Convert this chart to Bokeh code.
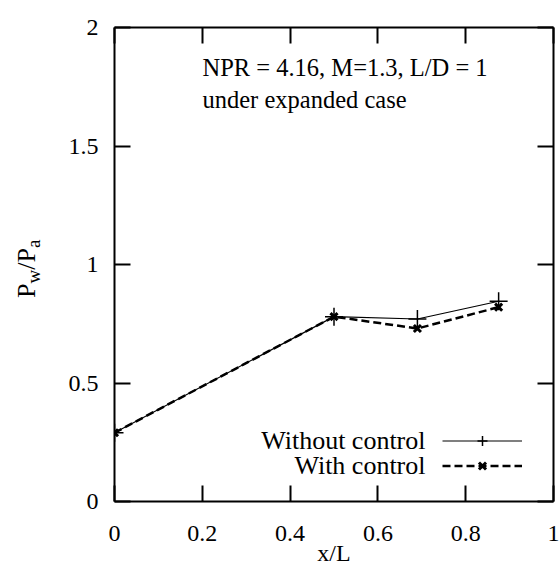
from bokeh.plotting import figure
from bokeh.models import (ColumnDataSource, Range1d, LinearAxis, FixedTicker, Label,
                          Legend, LegendItem, CustomLabelingPolicy, Div)
from bokeh.layouts import row
from bokeh.embed import file_html
from bokeh.resources import INLINE

# ---- data ----
x_pos = [0.0, 0.5, 0.69, 0.875]
without_control = [0.29, 0.78, 0.77, 0.845]
with_control = [0.29, 0.78, 0.73, 0.82]

x_ticks = [0, 0.2, 0.4, 0.6, 0.8, 1.0]
x_tick_labels = ["0", "0.2", "0.4", "0.6", "0.8", "1"]
y_ticks = [0, 0.5, 1.0, 1.5, 2.0]
y_tick_labels = ["0", "0.5", "1", "1.5", "2"]

series_names = ["Without control", "With control"]
note_lines = ["NPR = 4.16, M=1.3, L/D = 1", "under expanded case"]
x_label = "x/L"
y_label_parts = ["P", "w", "/P", "a"]   # P_w / P_a

FONT = "Liberation Serif"
FS = "24px"
DIV_W = 50

src1 = ColumnDataSource(dict(x=x_pos, y=without_control))
src2 = ColumnDataSource(dict(x=x_pos, y=with_control))

p = figure(frame_width=439, frame_height=474, output_backend="svg", toolbar_location=None,
           x_range=Range1d(0, 1), y_range=Range1d(0, 2),
           min_border_left=114 - DIV_W, min_border_top=27, min_border_right=6, min_border_bottom=10)
p.xgrid.visible = False
p.ygrid.visible = False
p.outline_line_color = None
p.background_fill_color = "white"
p.border_fill_color = "white"

bottom_ax = p.below[0]
left_ax = p.left[0]
top_ax = LinearAxis()
right_ax = LinearAxis()
p.add_layout(top_ax, "above")
p.add_layout(right_ax, "right")

hide_all = CustomLabelingPolicy(code="""
const n = indices.size;
for (let i = 0; i < n; i++) { indices.unset(i); }
return indices;
""")

for ax, ticks, labels in [(bottom_ax, x_ticks, x_tick_labels), (left_ax, y_ticks, y_tick_labels),
                          (top_ax, x_ticks, x_tick_labels), (right_ax, y_ticks, y_tick_labels)]:
    ax.ticker = FixedTicker(ticks=ticks)
    ax.major_label_overrides = {t: l for t, l in zip(ticks, labels)}
    ax.minor_tick_line_color = None
    ax.major_tick_in = 16
    ax.major_tick_out = 0
    ax.major_tick_line_width = 2
    ax.major_tick_line_color = "black"
    ax.axis_line_width = 2
    ax.axis_line_color = "black"
    ax.major_label_text_font = FONT
    ax.major_label_text_font_size = FS
    ax.major_label_text_color = "black"
    ax.major_label_standoff = 16

for ax in (top_ax, right_ax):
    ax.major_label_policy = hide_all
    ax.major_label_standoff = 0

bottom_ax.major_label_standoff = 24
bottom_ax.axis_label = x_label
bottom_ax.axis_label_text_font = FONT
bottom_ax.axis_label_text_font_size = FS
bottom_ax.axis_label_text_font_style = "normal"
bottom_ax.axis_label_text_color = "black"
bottom_ax.axis_label_standoff = -4

# series
r1 = p.line("x", "y", source=src1, line_color="black", line_width=1.2)
m1 = p.scatter("x", "y", source=src1, marker="cross", size=18, line_color="black", line_width=1.5)
r2 = p.line("x", "y", source=src2, line_color="black", line_width=2.5, line_dash="8 4")
m2 = p.scatter("x", "y", source=src2, marker="x", size=10, line_color="black", line_width=3)

# legend: glyph samples from Bokeh's legend, texts as labels on their left
legend = Legend(items=[LegendItem(label="", renderers=[r1, m1]),
                       LegendItem(label="", renderers=[r2, m2])],
                location=(328, 23), orientation="vertical",
                glyph_width=80, glyph_height=25, label_height=25, label_width=0, spacing=0,
                padding=0, margin=0, label_standoff=0,
                label_text_font=FONT, label_text_font_size=FS,
                border_line_color=None, background_fill_alpha=0)
p.add_layout(legend)

legend_y = [440, 465]
for name, yi in zip(series_names, legend_y):
    p.add_layout(Label(x=425 - 114, y=501 - yi, x_units="screen", y_units="screen", text=name,
                       text_font=FONT, text_font_size="26px", text_color="black",
                       text_align="right", text_baseline="middle"))

# annotation text
note_y = [67, 99]
for line, yi in zip(note_lines, note_y):
    p.add_layout(Label(x=202 - 114, y=501 - yi, x_units="screen", y_units="screen", text=line,
                       text_font=FONT, text_font_size="24.5px", text_color="black",
                       text_align="left", text_baseline="middle"))

# y axis label P_w/P_a as rotated HTML text
main_css = "font-size:26px;"
sub_css = "font-size:19px;vertical-align:-5px;"
ylabel_html = (
    '<div style="position:relative;width:%dpx;height:560px;">'
    '<div style="position:absolute;left:0;top:0;transform-origin:0 0;'
    'transform:translate(14px,298px) rotate(-90deg);white-space:nowrap;line-height:26px;'
    'font-family:\'Liberation Serif\';color:black;">'
    '<span style="%s">%s</span><span style="%s">%s</span>'
    '<span style="%s">%s</span><span style="%s">%s</span>'
    '</div></div>'
) % (DIV_W, main_css, y_label_parts[0], sub_css, y_label_parts[1],
     main_css, y_label_parts[2], sub_css, y_label_parts[3])
ydiv = Div(text=ylabel_html, width=DIV_W, height=560, margin=0)

layout = row(ydiv, p)
open("out.html", "w").write(file_html(layout, INLINE))
